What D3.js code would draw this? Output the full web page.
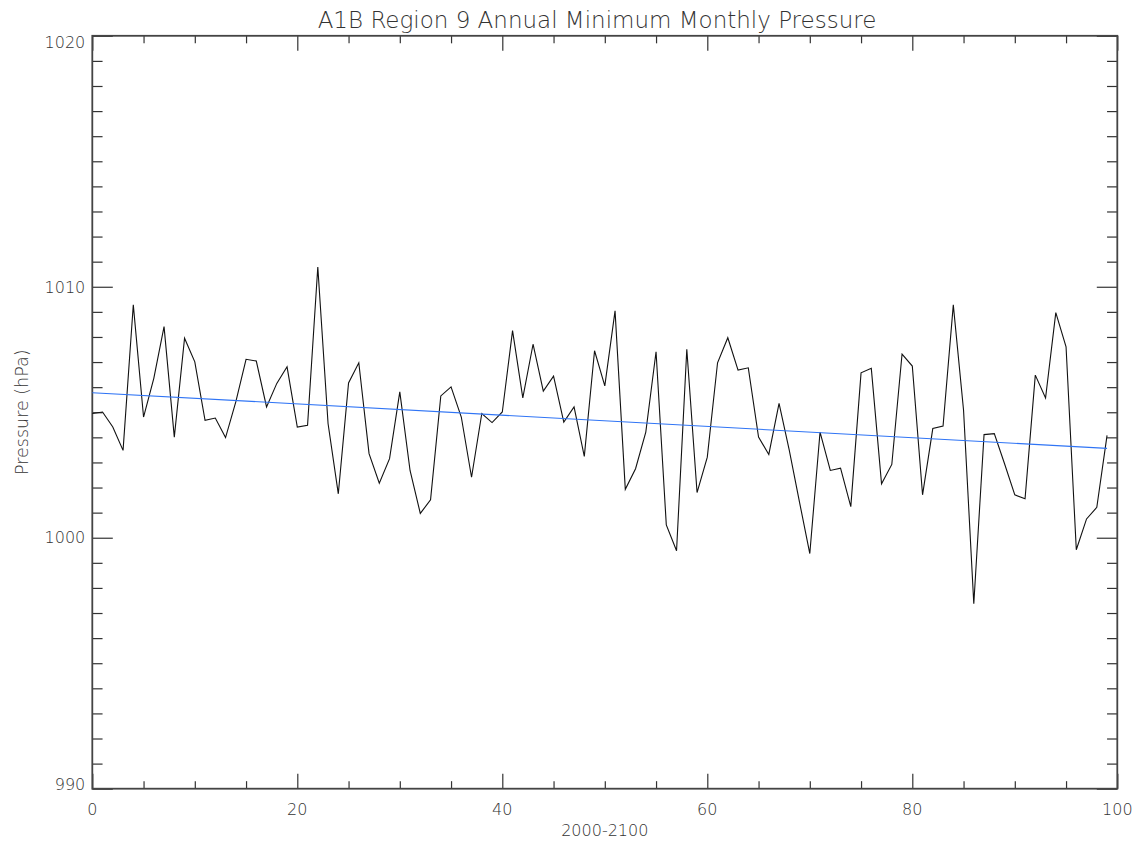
<!DOCTYPE html>
<html>
<head>
<meta charset="utf-8">
<script src="https://cdn.jsdelivr.net/npm/d3@7"></script>
<style>
  body { margin: 0; background: #fff; }
  text { font-family: "DejaVu Sans", sans-serif; font-weight: 200; fill: #333; }
</style>
</head>
<body>
<div id="vis_result"></div>
<script>
// years since 2000 and annual minimum monthly pressure (hPa)
var years = d3.range(0, 100)
var pressure = [
  1004.95, 1005.01, 1004.41, 1003.48, 1009.28, 1004.81, 1006.35, 1008.41, 1004.01, 1007.95,
  1007.01, 1004.68, 1004.77, 1003.99, 1005.41, 1007.11, 1007.04, 1005.21, 1006.15, 1006.81,
  1004.41, 1004.48, 1010.79, 1004.55, 1001.75, 1006.17, 1006.97, 1003.35, 1002.17, 1003.15,
  1005.81, 1002.68, 1000.97, 1001.51, 1005.65, 1006.01, 1004.81, 1002.41, 1004.95, 1004.59,
  1005.01, 1008.25, 1005.57, 1007.71, 1005.84, 1006.44, 1004.61, 1005.21, 1003.24, 1007.45,
  1006.05, 1009.04, 1001.93, 1002.75, 1004.21, 1007.41, 1000.51, 999.48, 1007.51, 1001.80,
  1003.21, 1006.97, 1007.97, 1006.68, 1006.77, 1004.01, 1003.32, 1005.35, 1003.48, 1001.41,
  999.37, 1004.21, 1002.68, 1002.77, 1001.24, 1006.57, 1006.75, 1002.15, 1002.92, 1007.32,
  1006.84, 1001.71, 1004.35, 1004.45, 1009.28, 1005.08, 997.37, 1004.11, 1004.15, 1002.95,
  1001.71, 1001.55, 1006.48, 1005.57, 1008.97, 1007.61, 999.52, 1000.75, 1001.21, 1004.08
]
// linear trend end points
var trendYears = [0, 99]
var trendValues = [1005.78, 1003.56]

var xMajor = [0, 20, 40, 60, 80, 100]
var yMajor = [990, 1000, 1010, 1020]

var width = 1141, height = 842
var m = { left: 92.3, right: 1117.3, top: 35.8, bottom: 788.7 }

var svg = d3.select("#vis_result")
  .append("svg")
  .attr("width", width)
  .attr("height", height)

var x = d3.scaleLinear().domain([0, 100]).range([m.left, m.right])
var y = d3.scaleLinear().domain([990, 1020]).range([m.bottom, m.top])

var plotW = m.right - m.left, plotH = m.bottom - m.top
var xLen = plotH * 0.02, yLen = plotW * 0.02   // IDL style tick lengths

var xMinor = d3.range(0, 101, 5).filter(function (d) { return xMajor.indexOf(d) < 0 })
var yMinor = d3.range(990, 1021, 1).filter(function (d) { return yMajor.indexOf(d) < 0 })

function addTicks(axis, transform) {
  var g = svg.append("g").attr("transform", transform).call(axis)
  g.select(".domain").remove()
  g.selectAll("line").attr("stroke", "#333").attr("stroke-width", 1.2)
  g.selectAll("text").remove()
}

// bottom / top ticks
addTicks(d3.axisBottom(x).tickValues(xMajor).tickSize(-xLen), `translate(0,${m.bottom})`)
addTicks(d3.axisBottom(x).tickValues(xMinor).tickSize(-xLen / 2), `translate(0,${m.bottom})`)
addTicks(d3.axisTop(x).tickValues(xMajor).tickSize(-xLen), `translate(0,${m.top})`)
addTicks(d3.axisTop(x).tickValues(xMinor).tickSize(-xLen / 2), `translate(0,${m.top})`)
// left / right ticks
addTicks(d3.axisLeft(y).tickValues(yMajor).tickSize(-yLen), `translate(${m.left},0)`)
addTicks(d3.axisLeft(y).tickValues(yMinor).tickSize(-yLen / 2), `translate(${m.left},0)`)
addTicks(d3.axisRight(y).tickValues(yMajor).tickSize(-yLen), `translate(${m.right},0)`)
addTicks(d3.axisRight(y).tickValues(yMinor).tickSize(-yLen / 2), `translate(${m.right},0)`)

// frame
svg.append("rect")
  .attr("x", m.left).attr("y", m.top)
  .attr("width", plotW).attr("height", plotH)
  .attr("fill", "none")
  .attr("stroke", "#444")
  .attr("stroke-width", 1.8)

// tick labels
svg.selectAll(".xlab")
  .data(xMajor)
  .enter()
  .append("text")
  .attr("x", function (d) { return x(d) })
  .attr("y", m.bottom + 26)
  .attr("text-anchor", "middle")
  .style("font-size", "16px")
  .text(function (d) { return d })

svg.selectAll(".ylab")
  .data(yMajor)
  .enter()
  .append("text")
  .attr("x", m.left - 7)
  .attr("y", function (d) { return y(d) })
  .attr("dy", function (d) { return d == 990 ? "0.1em" : d == 1020 ? "0.78em" : "0.36em" })
  .attr("text-anchor", "end")
  .style("font-size", "16px")
  .text(function (d) { return d })

// data line
var line = d3.line()
  .x(function (d) { return x(d[0]) })
  .y(function (d) { return y(d[1]) })

svg.append("path")
  .attr("d", line(d3.zip(years, pressure)))
  .attr("fill", "none")
  .attr("stroke", "#111")
  .attr("stroke-width", 1.1)

svg.append("path")
  .attr("d", line(d3.zip(trendYears, trendValues)))
  .attr("fill", "none")
  .attr("stroke", "#2f74f5")
  .attr("stroke-width", 1.1)

// titles
svg.append("text")
  .attr("x", 597)
  .attr("y", 28)
  .attr("text-anchor", "middle")
  .style("font-size", "23px")
  .text("A1B Region 9 Annual Minimum Monthly Pressure")

svg.append("text")
  .attr("x", x(50))
  .attr("y", m.bottom + 47)
  .attr("text-anchor", "middle")
  .style("font-size", "16px")
  .text("2000-2100")

svg.append("text")
  .attr("transform", `translate(28,${(m.top + m.bottom) / 2}) rotate(-90)`)
  .attr("text-anchor", "middle")
  .style("font-size", "17.5px")
  .text("Pressure (hPa)")
</script>
</body>
</html>
